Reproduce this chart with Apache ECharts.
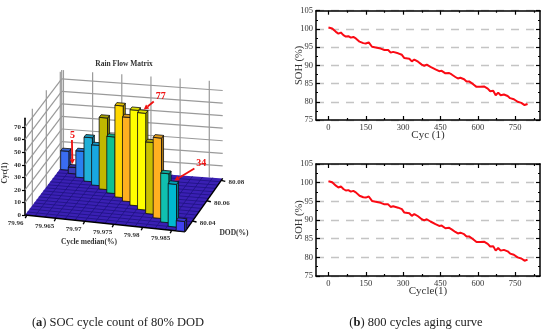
<!DOCTYPE html>
<html><head><meta charset="utf-8">
<style>html,body{margin:0;padding:0;background:#fff}#c{width:550px;height:335px}</style>
<script src="https://cdn.jsdelivr.net/npm/echarts@6/dist/echarts.min.js"></script>
</head><body><div id="c"></div>
<script>
// ---- data: rain flow matrix ----
const cycleMedian = [79.9606,79.9623,79.964,79.9658,79.9675,79.9692,79.9709,79.9727,79.9744,79.9761,79.9778,79.9796,79.9813,79.983,79.9847,79.9865];
const dod = [80.0804,80.0771,80.0738,80.0705,80.0672,80.0639,80.0607,80.0574,80.0541,80.0508,80.0475,80.0442,80.0409,80.0376,80.0343,80.031];
const counts = [15,5,21,35,32,57,45,73,67,76,77,57,64,39,34,8];
const medianTicks = [79.96,79.965,79.97,79.975,79.98,79.985];
const dodTicks = [80.04,80.06,80.08];
const countTicks = [10,20,30,40,50,60,70];
const countLabels = [0,10,20,30,40,50,60,70];
const annotatedCounts = [5,77,34];
// ---- data: aging curve ----
const cycles = [0,15,30,40,50,60,70,80,90,100,110,125,140,150,162,175,190,210,225,240,250,260,280,295,305,325,335,345,360,375,385,395,410,430,445,455,470,485,495,510,520,530,545,555,565,580,595,610,625,640,650,662,672,682,692,705,720,730,745,760,775,788,800];
const soh = [100.4,100.1,99.2,98.7,99.0,98.3,97.9,98.0,97.6,97.8,97.4,96.5,96.1,96.0,96.3,95.1,94.9,94.6,94.2,94.2,93.5,93.7,93.3,92.9,92.0,91.8,91.1,91.6,91.0,90.2,89.9,90.2,89.6,88.9,88.4,88.5,87.8,87.9,87.5,86.8,86.4,86.6,86.2,85.6,85.6,84.9,84.1,84.1,84.2,83.6,82.9,83.0,81.8,82.5,81.8,82.0,81.6,81.0,80.7,80.0,79.7,79.1,79.4];
const cycleMajor = [0,150,300,450,600,750];
const cycleMinor = [75,225,375,525,675,825];

// ---- styles ----
const barColors = ['#3a6cf0','#3a3ab8','#2a80f0','#20b0d8','#18a8e0','#c0b800','#10c090','#ffd800','#ffb020','#ffff00','#ffff00','#c8c000','#ffb020','#10c0b0','#00b8d0','#4040f0'];
const serif = '"Liberation Serif", serif';
const xMin = 79.9597, xMax = 79.9873, dMin = 80.0295, dMax = 80.082, zTop = 77;
const cells = 16;
const arrowOffsets = {5:{tail:[-0.5,-24],label:[0,-29]},77:{tail:[10,-8],label:[17,-13]},34:{tail:[20,-12],label:[27,-17]}};

function project(api, x, d, z){
  const t=(x-xMin)/(xMax-xMin), s=(d-dMin)/(dMax-dMin);
  const p=api.coord([x,z]);
  return [p[0]+(36.7+t)*s, p[1]+16.7*t-(48.3+5*t)*s];
}
const line=(a,b,style)=>({type:'line',shape:{x1:a[0],y1:a[1],x2:b[0],y2:b[1]},style});
const poly=(pts,style)=>({type:'polygon',shape:{points:pts},style});
const txt=(p,text,style)=>({type:'text',x:p[0],y:p[1],style:Object.assign({text,align:'center',verticalAlign:'middle',fontFamily:serif},style)});

function renderWalls(params,api){
  const gray={stroke:'#9a9a9a',lineWidth:1.2}, kids=[];
  countTicks.forEach(z=>{
    kids.push(line(project(api,xMin,dMin,z),project(api,xMin,dMax,z),gray));
    kids.push(line(project(api,xMin,dMax,z),project(api,xMax,dMax,z),gray));
  });
  medianTicks.forEach(x=>kids.push(line(project(api,x,dMax,0),project(api,x,dMax,zTop),gray)));
  dodTicks.forEach(d=>kids.push(line(project(api,xMin,d,0),project(api,xMin,d,zTop),gray)));
  kids.push(line(project(api,xMin,dMax,0),project(api,xMin,dMax,zTop),gray));
  return {type:'group',children:kids};
}
function renderFloor(params,api){
  const kids=[poly([project(api,xMin,dMin,0),project(api,xMax,dMin,0),project(api,xMax,dMax,0),project(api,xMin,dMax,0)],{fill:'#3a20b4'})];
  const grid={stroke:'#1e1280',lineWidth:0.8};
  for(let i=1;i<cells;i++){
    const x=xMin+(xMax-xMin)*i/cells, d=dMin+(dMax-dMin)*i/cells;
    kids.push(line(project(api,x,dMin,0),project(api,x,dMax,0),grid));
    kids.push(line(project(api,xMin,d,0),project(api,xMax,d,0),grid));
  }
  const edge={stroke:'#000',lineWidth:1.4};
  kids.push(line(project(api,xMin,dMin,0),project(api,xMax,dMin,0),edge));
  kids.push(line(project(api,xMax,dMin,0),project(api,xMax,dMax,0),edge));
  const lab={fontSize:7,fontWeight:'bold',fill:'#333'};
  medianTicks.forEach(x=>{
    const p=project(api,x,dMin,0);
    kids.push(line(p,[p[0]-1.5,p[1]+3],{stroke:'#000',lineWidth:1.4}));
    kids.push(txt([p[0]-11,p[1]+8],String(x),lab));
  });
  dodTicks.forEach(d=>{
    const p=project(api,xMax,d,0);
    kids.push(line(p,[p[0]+4,p[1]+1],{stroke:'#000',lineWidth:1.4}));
    kids.push(txt([p[0]+15,p[1]+2],String(d),lab));
  });
  return {type:'group',children:kids};
}
function shade(hex,f){
  const n=parseInt(hex.slice(1),16);
  return 'rgb('+[(n>>16)&255,(n>>8)&255,n&255].map(v=>Math.round(v*f)).join(',')+')';
}
function renderBar(params,api){
  const x=api.value(0), d=api.value(1), z=api.value(2), c=barColors[params.dataIndex];
  const hx=(xMax-xMin)/cells*0.42, hd=(dMax-dMin)/cells*0.42;
  const a=project(api,x-hx,d-hd,0), b=project(api,x+hx,d-hd,0), e=project(api,x+hx,d+hd,0);
  const at=project(api,x-hx,d-hd,z), bt=project(api,x+hx,d-hd,z), et=project(api,x+hx,d+hd,z), ft=project(api,x-hx,d+hd,z);
  const st={stroke:'#101010',lineWidth:0.8,lineJoin:'round'};
  return {type:'group',children:[
    poly([a,b,bt,at],Object.assign({fill:c},st)),
    poly([b,e,et,bt],Object.assign({fill:shade(c,0.7)},st)),
    poly([at,bt,et,ft],Object.assign({fill:shade(c,0.88)},st))
  ]};
}
function renderNote(params,api){
  const x=api.value(0), d=api.value(1), z=api.value(2);
  const o=arrowOffsets[z], top=project(api,x,d,z);
  const tip=[top[0]+(z===5?-1:1),top[1]-2];
  const tail=[tip[0]+o.tail[0],tip[1]+o.tail[1]];
  const L=Math.hypot(tip[0]-tail[0],tip[1]-tail[1]), ux=(tip[0]-tail[0])/L, uy=(tip[1]-tail[1])/L;
  const base=[tip[0]-ux*5,tip[1]-uy*5];
  return {type:'group',children:[
    line(tail,base,{stroke:'#f01010',lineWidth:1.8}),
    poly([tip,[base[0]-uy*2.6,base[1]+ux*2.6],[base[0]+uy*2.6,base[1]-ux*2.6]],{fill:'#f01010'}),
    txt([tip[0]+o.label[0],tip[1]+o.label[1]],String(z),{fontSize:10,fontWeight:'bold',fill:'#f01010'})
  ]};
}

const chartData = cycles.map((c,i)=>[c,soh[i]]);
const tickX=(pos,vals,len,labels,lineOn)=>({type:'value',gridIndex:0,min:-50,max:850,position:pos,
  axisLine:{show:!!lineOn,onZero:false,lineStyle:{color:'#000',width:1.5}},splitLine:{show:false},
  axisTick:{show:true,inside:true,length:len,customValues:vals,lineStyle:{color:'#000',width:1.2}},
  axisLabel:labels?{show:true,customValues:vals,formatter:v=>String(v),color:'#333',fontFamily:serif,fontSize:8.5,margin:3}:{show:false}});
const tickY=(pos,labels,split)=>({type:'value',gridIndex:0,min:75,max:105,interval:5,position:pos,
  axisLine:{show:true,onZero:false,lineStyle:{color:'#000',width:1.5}},
  splitLine:split?{show:true,lineStyle:{color:'#c4c4c4',width:1.4,type:[8,7]}}:{show:false},
  axisTick:{show:true,inside:true,length:4,lineStyle:{color:'#000',width:1.2}},
  minorTick:{show:true,splitNumber:2,length:2,lineStyle:{color:'#000',width:1}},
  axisLabel:labels?{show:true,color:'#333',fontFamily:serif,fontSize:8.5,margin:3}:{show:false}});

const xAxes=[], yAxes=[], grids=[], series=[];
grids.push({left:25,top:118.3,width:160,height:96.7});
xAxes.push({type:'value',gridIndex:0,min:xMin,max:xMax,show:false});
yAxes.push({type:'value',gridIndex:0,min:0,max:zTop,position:'left',
  axisLine:{show:true,onZero:false,lineStyle:{color:'#000',width:1.6}},
  axisTick:{show:true,length:3,customValues:countLabels,lineStyle:{color:'#000',width:1.2}},
  splitLine:{show:false},
  axisLabel:{show:true,customValues:countLabels,formatter:v=>String(v),color:'#333',fontFamily:serif,fontSize:7,fontWeight:'bold',margin:4}});
const c3d={type:'custom',xAxisIndex:0,yAxisIndex:0,clip:false,silent:true,animation:false};
series.push(Object.assign({},c3d,{renderItem:renderWalls,data:[[xMin,0,0]],z:1}));
series.push(Object.assign({},c3d,{renderItem:renderFloor,data:[[xMin,0,0]],z:2}));
series.push(Object.assign({},c3d,{renderItem:renderBar,z:3,data:cycleMedian.map((x,i)=>[x,dod[i],counts[i]]),encode:{x:0,y:2}}));
series.push(Object.assign({},c3d,{renderItem:renderNote,z:4,data:cycleMedian.map((x,i)=>[x,dod[i],counts[i]]).filter(r=>annotatedCounts.includes(r[2])),encode:{x:0,y:2}}));

[[10.7,109.3,'Cyc (1)'],[164,112,'Cycle(1)']].forEach(([top,h,name])=>{
  const g=grids.length;
  grids.push({left:316,top,width:224,height:h});
  const x0=xAxes.length;
  [tickX('bottom',cycleMajor,4,true,true),tickX('bottom',cycleMinor,2,false),tickX('top',cycleMajor,4,false,true),tickX('top',cycleMinor,2,false)]
    .forEach((a,i)=>{a.gridIndex=g;if(i===0){a.name=name;a.nameLocation='middle';a.nameGap=10;a.nameMoveOverlap=false;a.nameTextStyle={fontFamily:serif,fontSize:11,color:'#333'};}xAxes.push(a);});
  const y0=yAxes.length;
  [tickY('left',true,true),tickY('right',false,false)].forEach((a,i)=>{a.gridIndex=g;if(i===0){a.name='SOH (%)';a.nameLocation='middle';a.nameGap=11;a.nameMoveOverlap=false;a.nameTextStyle={fontFamily:serif,fontSize:10.5,color:'#333'};}yAxes.push(a);});
  series.push({type:'line',xAxisIndex:x0,yAxisIndex:y0,data:chartData,showSymbol:false,symbol:'none',smooth:false,animation:false,silent:true,
    lineStyle:{color:'#fa0a14',width:2}});
});

const gt=(x,y,text,extra)=>({type:'text',x,y,silent:true,style:Object.assign({text,align:'center',verticalAlign:'middle',fontFamily:serif,fill:'#333'},extra)});
const rich={b:{fontFamily:serif,fontSize:12.5,fontWeight:'bold',fill:'#222'},n:{fontFamily:serif,fontSize:12.5,fill:'#222'}};
const chart=echarts.init(document.getElementById('c'),null,{renderer:'canvas'});
chart.setOption({animation:false,backgroundColor:'#fff',grid:grids,xAxis:xAxes,yAxis:yAxes,series,
  graphic:{elements:[
    gt(124,64,'Rain Flow Matrix',{fontSize:7.5,fontWeight:'bold'}),
    gt(89,242,'Cycle median(%)',{fontSize:7.5,fontWeight:'bold'}),
    gt(234,233,'DOD(%)',{fontSize:7.5,fontWeight:'bold'}),
    {type:'text',x:5.5,y:173,rotation:Math.PI/2,silent:true,style:{text:'Cyc(1)',align:'center',verticalAlign:'middle',fontFamily:serif,fill:'#333',fontSize:7.5,fontWeight:'bold'}},
    gt(118,323,'{n|(}{b|a}{n|) SOC cycle count of 80% DOD}',{rich}),
    gt(416,323,'{n|(}{b|b}{n|) 800 cycles aging curve}',{rich})
  ]}
});
</script></body></html>
